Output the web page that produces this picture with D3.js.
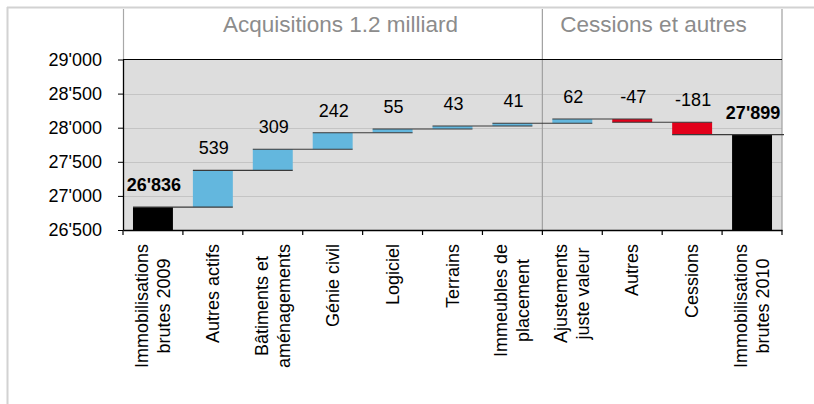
<!DOCTYPE html>
<html><head><meta charset="utf-8">
<script src="https://cdn.jsdelivr.net/npm/d3@7"></script>
<style>
html,body{margin:0;padding:0;background:#fff;}
text{font-family:"Liberation Sans",Arial,sans-serif;}
</style></head>
<body><svg id="c" width="814" height="404"></svg>
<script>
// ---- data ----
const categories = ["Immobilisations brutes 2009","Autres actifs","Bâtiments et aménagements","Génie civil","Logiciel","Terrains","Immeubles de placement","Ajustements juste valeur","Autres","Cessions","Immobilisations brutes 2010"];
const categoryLines = [["Immobilisations","brutes 2009"],["Autres actifs"],["Bâtiments et","aménagements"],["Génie civil"],["Logiciel"],["Terrains"],["Immeubles de","placement"],["Ajustements","juste valeur"],["Autres"],["Cessions"],["Immobilisations","brutes 2010"]];
const values = [26836, 539, 309, 242, 55, 43, 41, 62, -47, -181, 27899];
const kinds = ["total","delta","delta","delta","delta","delta","delta","delta","delta","delta","total"];
const yTicks = [26500, 27000, 27500, 28000, 28500, 29000];
const yDomain = [26500, 29000];
const groups = [{label:"Acquisitions 1.2 milliard", from:0, to:6},{label:"Cessions et autres", from:7, to:10}];

// ---- layout ----
const svg = d3.select("#c");
const L = 123, R = 782, T = 59.5, B = 230;
const x = d3.scaleBand().domain(categories).range([L, R]).paddingInner(1/3).paddingOuter(1/6);
const y = d3.scaleLinear().domain(yDomain).range([B, T]);
const loc = d3.formatLocale({decimal:".", thousands:"'", grouping:[3], currency:["",""]});
const fmt = loc.format(",");

// compute waterfall
let cum = 0;
const bars = categories.map((c,i)=>{
  let lo, hi, end;
  if (kinds[i]==="total"){ lo = yDomain[0]; hi = values[i]; end = values[i]; cum = values[i]; }
  else { const s = cum; cum += values[i]; lo = Math.min(s,cum); hi = Math.max(s,cum); end = cum; }
  return {c, i, lo, hi, end, v: values[i], kind: kinds[i]};
});

// outer frame
svg.append("line").attr("x1",7).attr("x2",814).attr("y1",7.5).attr("y2",7.5).attr("stroke","#d2d2d2").attr("stroke-width",2);
svg.append("line").attr("x1",7.5).attr("x2",7.5).attr("y1",7).attr("y2",404).attr("stroke","#d2d2d2").attr("stroke-width",2);

// plot bg
svg.append("rect").attr("x",L).attr("y",T).attr("width",R-L).attr("height",B-T).attr("fill","#dddddd");
// gridlines
svg.append("g").selectAll("line").data(yTicks.filter(t=>t>yDomain[0]&&t<yDomain[1])).join("line")
  .attr("x1",L).attr("x2",R).attr("y1",d=>Math.round(y(d))+0.5).attr("y2",d=>Math.round(y(d))+0.5)
  .attr("stroke","#c4c4c4").attr("stroke-width",1.2);

// header separators
const step = x.step();
const bound = k => L + k*step;
[L+0.5].forEach(xx=>svg.append("line").attr("x1",xx).attr("x2",xx).attr("y1",9).attr("y2",T).attr("stroke","#a8a8a8").attr("stroke-width",1.2));
groups.forEach((g,gi)=>{
  const xr = bound(g.to+1);
  svg.append("line").attr("x1",xr).attr("x2",xr).attr("y1",9).attr("y2",B).attr("stroke","#a0a0a0").attr("stroke-width",1.2);
});
// group labels
const groupCenters = [340.5, 653.5];
groups.forEach((g,gi)=>{
  svg.append("text").attr("x",groupCenters[gi]).attr("y",31.5).attr("text-anchor","middle")
    .attr("font-size",22.5).attr("fill","#8c8c8c").text(g.label);
});

// bars
const color = d => d.kind==="total" ? "#000000" : (d.v>=0 ? "#63b7de" : "#e2001a");
svg.append("g").selectAll("rect").data(bars).join("rect")
  .attr("x",d=>x(d.c)).attr("width",x.bandwidth())
  .attr("y",d=>y(d.hi)).attr("height",d=>Math.max(1,y(d.lo)-y(d.hi)))
  .attr("fill",color);

// connectors
svg.append("g").selectAll("line").data(bars.slice(0,-1)).join("line")
  .attr("x1",d=>x(d.c)).attr("x2",(d,k)=> k===bars.length-2 ? R+2 : x(bars[k+1].c)+x.bandwidth())
  .attr("y1",d=>y(d.end)).attr("y2",d=>y(d.end))
  .attr("stroke","#3a3a3a").attr("stroke-width",1.1);

// value labels
svg.append("g").selectAll("text").data(bars).join("text")
  .attr("x",d=>x(d.c)+x.bandwidth()/2+1).attr("y",d=>y(d.hi)-16)
  .attr("text-anchor","middle").attr("font-size",18)
  .attr("font-weight",d=>d.kind==="total"?"bold":"normal")
  .attr("fill","#000")
  .text(d=>d.kind==="total"? fmt(d.v) : String(d.v));

// top border of plot and right border
svg.append("line").attr("x1",L).attr("x2",R).attr("y1",T).attr("y2",T).attr("stroke","#000").attr("stroke-width",1.2);

// y axis
const yAxis = d3.axisLeft(y).tickValues(yTicks).tickFormat(fmt).tickSize(5).tickSizeOuter(0).tickPadding(16);
const gy = svg.append("g").attr("transform",`translate(${L},0)`).call(yAxis);
gy.selectAll("text").attr("font-size",18).attr("fill","#000").attr("font-family","'Liberation Sans',Arial,sans-serif");
gy.select(".domain").attr("stroke","#000").attr("stroke-width",1.3);
gy.selectAll(".tick line").attr("stroke","#000");

// x axis
const xAxis = d3.axisBottom(x).tickSize(0).tickFormat("");
const gx = svg.append("g").attr("transform",`translate(0,${B})`).call(xAxis);
gx.select(".domain").attr("stroke","#000").attr("stroke-width",1.3);
gx.selectAll(".tick").remove();
svg.append("g").selectAll("line").data(d3.range(categories.length+1)).join("line")
  .attr("x1",k=>bound(k)).attr("x2",k=>bound(k)).attr("y1",B).attr("y2",B+5).attr("stroke","#000").attr("stroke-width",1.2);

// category labels
const labTop = 244, lineGap = 22;
categories.forEach((c,i)=>{
  const lines = categoryLines[i];
  const cx = x(c) + x.bandwidth()/2;
  const g = svg.append("g");
  const ts = lines.map(t=>g.append("text").attr("font-size",18).attr("fill","#000").attr("text-anchor","middle").text(t));
  const maxW = d3.max(ts, t=>t.node().getComputedTextLength());
  const yc = labTop + maxW/2;
  ts.forEach((t,k)=>{
    const bx = cx + 6 + (k - (lines.length-1)/2)*lineGap;
    t.attr("transform",`translate(${bx},${yc}) rotate(-90)`);
  });
});
</script></body></html>
